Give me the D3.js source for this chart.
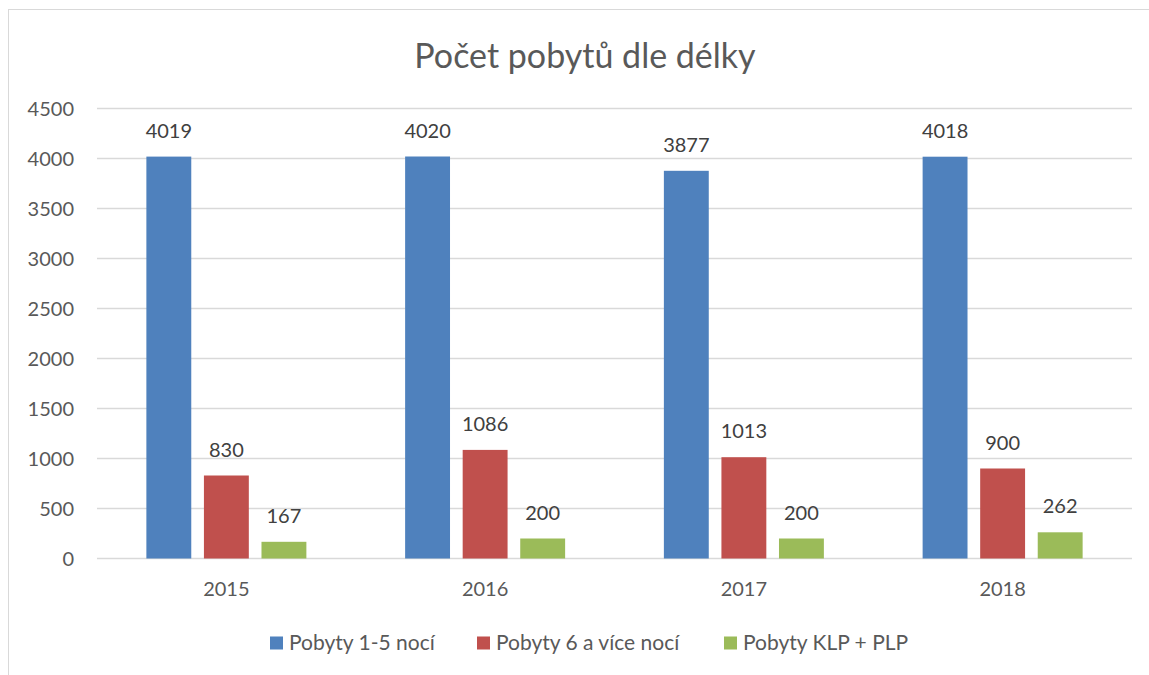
<!DOCTYPE html>
<html>
<head>
<meta charset="utf-8">
<script src="https://cdn.jsdelivr.net/npm/d3@7"></script>
<style>
  body { margin: 0; background: #fff; }
  svg { display: block; font-family: Lato, "Open Sans", sans-serif; }
</style>
</head>
<body>
<svg width="1149" height="675"></svg>
<script>
  // data
  var years = ["2015", "2016", "2017", "2018"];
  var seriesNames = ["Pobyty 1-5 nocí", "Pobyty 6 a více nocí", "Pobyty KLP + PLP"];
  var shortStays = [4019, 4020, 3877, 4018];
  var longStays = [830, 1086, 1013, 900];
  var klpPlp = [167, 200, 200, 262];
  var yTicks = [0, 500, 1000, 1500, 2000, 2500, 3000, 3500, 4000, 4500];

  var colors = ["#4F81BD", "#C0504D", "#9BBB59"];
  var textColor = "#595959";

  var svg = d3.select("svg"),
      width = +svg.attr("width"),
      height = +svg.attr("height");

  var margin = {left: 97, right: 17, top: 108.5, bottom: 116.5};

  // chart frame (cropped at the right and bottom in the original)
  svg.append("rect")
      .attr("x", 8.5).attr("y", 9.5)
      .attr("width", width + 10).attr("height", height + 10)
      .attr("fill", "none")
      .attr("stroke", "#d9d9d9");

  var rows = years.map(function(y, i) {
    return {year: y, values: [shortStays[i], longStays[i], klpPlp[i]]};
  });

  var x0 = d3.scaleBand()
      .domain(years)
      .range([margin.left, width - margin.right]);

  var x1 = d3.scaleBand()
      .domain(d3.range(seriesNames.length))
      .range([0, 160])
      .paddingInner(0.22);

  var y = d3.scaleLinear()
      .domain([0, 4500])
      .range([height - margin.bottom, margin.top]);

  // gridlines + y labels
  var grid = svg.append("g");
  grid.selectAll("line")
    .data(yTicks)
    .enter().append("line")
      .attr("x1", margin.left).attr("x2", width - margin.right)
      .attr("y1", function(d) { return y(d); })
      .attr("y2", function(d) { return y(d); })
      .attr("stroke", "#d9d9d9")
      .attr("stroke-width", 1.3);

  grid.selectAll("text")
    .data(yTicks)
    .enter().append("text")
      .attr("x", 74)
      .attr("y", function(d) { return y(d); })
      .attr("dy", "0.35em")
      .attr("text-anchor", "end")
      .attr("font-size", "20px")
      .attr("fill", textColor)
      .text(function(d) { return d; });

  // bars
  var groups = svg.append("g")
    .selectAll("g")
    .data(rows)
    .enter().append("g")
      .attr("transform", function(d) {
        return "translate(" + (x0(d.year) + (x0.bandwidth() - 160) / 2) + ",0)";
      });

  groups.selectAll("rect")
    .data(function(d) { return d.values; })
    .enter().append("rect")
      .attr("x", function(d, i) { return x1(i); })
      .attr("width", x1.bandwidth())
      .attr("y", function(d) { return y(d); })
      .attr("height", function(d) { return y(0) - y(d); })
      .attr("fill", function(d, i) { return colors[i]; });

  groups.selectAll("text")
    .data(function(d) { return d.values; })
    .enter().append("text")
      .attr("x", function(d, i) { return x1(i) + x1.bandwidth() / 2; })
      .attr("y", function(d) { return y(d) - 26; })
      .attr("dy", "0.35em")
      .attr("text-anchor", "middle")
      .attr("font-size", "20px")
      .attr("fill", "#404040")
      .text(function(d) { return d; });

  // category labels
  svg.append("g")
    .selectAll("text")
    .data(years)
    .enter().append("text")
      .attr("x", function(d) { return x0(d) + x0.bandwidth() / 2; })
      .attr("y", height - margin.bottom + 30)
      .attr("dy", "0.35em")
      .attr("text-anchor", "middle")
      .attr("font-size", "20px")
      .attr("fill", textColor)
      .text(function(d) { return d; });

  // title
  svg.append("text")
      .attr("x", 585)
      .attr("y", 56)
      .attr("dy", "0.35em")
      .attr("text-anchor", "middle")
      .attr("font-size", "34px")
      .attr("fill", textColor)
      .text("Počet pobytů dle délky");

  // legend
  var legendX = [270, 477, 724];
  var legend = svg.append("g")
    .selectAll("g")
    .data(seriesNames)
    .enter().append("g")
      .attr("transform", function(d, i) { return "translate(" + legendX[i] + ",643)"; });

  legend.append("rect")
      .attr("x", 0).attr("y", -6.5)
      .attr("width", 13).attr("height", 13)
      .attr("fill", function(d, i) { return colors[i]; });

  legend.append("text")
      .attr("x", 19)
      .attr("dy", "0.35em")
      .attr("font-size", "21px")
      .attr("fill", textColor)
      .text(function(d) { return d; });
</script>
</body>
</html>
